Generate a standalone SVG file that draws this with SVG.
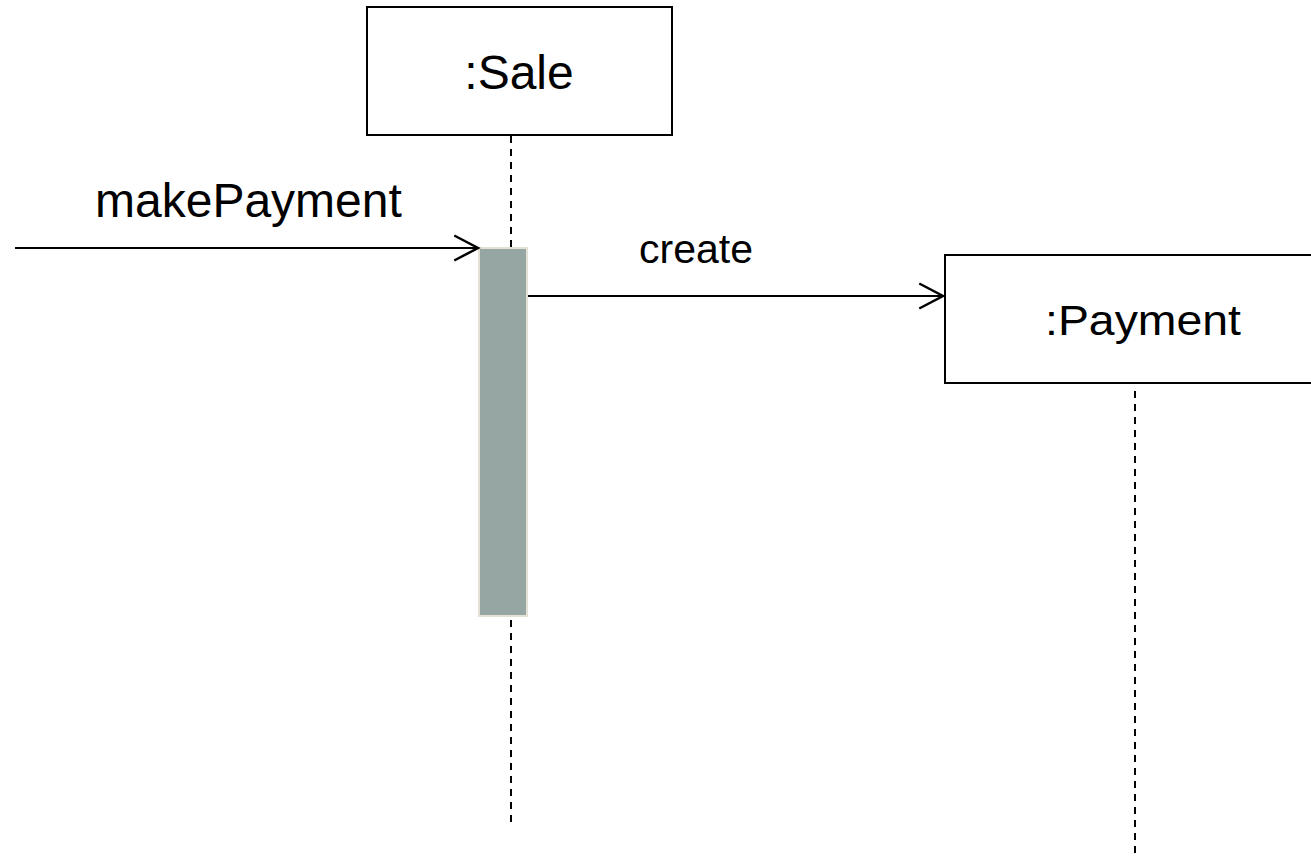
<svg xmlns="http://www.w3.org/2000/svg" width="1311" height="856" viewBox="0 0 1311 856">
<style>
.box{fill:#ffffff;stroke:#000000;stroke-width:2}
.life{stroke:#000000;stroke-width:2;stroke-dasharray:7 6;fill:none}
.msg{stroke:#000000;stroke-width:2;fill:none}
.lbl{font-family:"Liberation Sans",Arial,sans-serif;fill:#000000}
.act{fill:#95a6a3;stroke:#e4e0d6;stroke-width:2}
</style>
<defs>
<marker id="open" markerUnits="userSpaceOnUse" markerWidth="30" markerHeight="30" viewBox="-22 -12 24 24" refX="0" refY="0" orient="auto">
<path d="M-19,-10 L0,0 L-19,10" fill="none" stroke="#000000" stroke-width="2"/>
</marker>
</defs>
<rect width="1311" height="856" fill="#ffffff"/>
<g id="sale">
<rect class="box" x="367" y="7" width="305" height="128"/>
<text class="lbl" x="519" y="89" font-size="48" text-anchor="middle">:Sale</text>
<line class="life" x1="511" y1="136" x2="511" y2="248"/>
<line class="life" x1="511" y1="620" x2="511" y2="826"/>
</g>
<g id="activation">
<rect class="act" x="479" y="248" width="48" height="368"/>
</g>
<g id="payment">
<rect class="box" x="945" y="255" width="420" height="128"/>
<text class="lbl" x="1143" y="335" font-size="42" text-anchor="middle" textLength="196" lengthAdjust="spacingAndGlyphs">:Payment</text>
<line class="life" x1="1135" y1="391" x2="1135" y2="856"/>
</g>
<g id="connectors">
<line class="msg" x1="15" y1="248" x2="478" y2="248" marker-end="url(#open)"/>
<text class="lbl" x="95" y="217" font-size="48">makePayment</text>
<line class="msg" x1="528" y1="296" x2="943" y2="296" marker-end="url(#open)"/>
<text class="lbl" x="639" y="263" font-size="41">create</text>
</g>
</svg>
